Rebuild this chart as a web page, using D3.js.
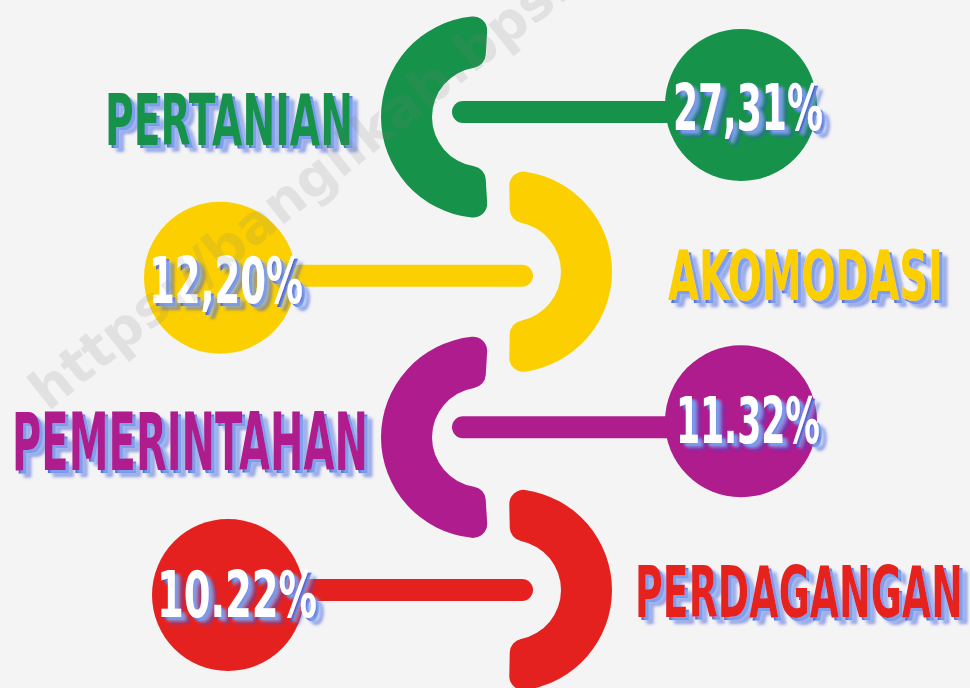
<!DOCTYPE html>
<html>
<head>
<meta charset="utf-8">
<script src="https://cdn.jsdelivr.net/npm/d3@7"></script>
<style>
  html, body { margin: 0; padding: 0; background: #f4f4f5; }
  svg { display: block; }
</style>
</head>
<body>
<div id="chart"></div>
<script>
// data
var sectors = ["PERTANIAN", "AKOMODASI", "PEMERINTAHAN", "PERDAGANGAN"];
var shares = [27.31, 12.20, 11.32, 10.22];
var shareLabels = ["27,31%", "12,20%", "11.32%", "10.22%"];
var sectorColors = ["#17924b", "#fcd000", "#ae1c8e", "#e5211f"];

var svgWidth = 970;
var svgHeight = 688;

var svg = d3.select("#chart")
  .append("svg")
  .attr("width", svgWidth)
  .attr("height", svgHeight);

svg.append("rect")
  .attr("width", svgWidth)
  .attr("height", svgHeight)
  .attr("fill", "#f4f4f5");

// shadow filter for the lettering
var defs = svg.append("defs");
var f = defs.append("filter").attr("id", "shadow")
  .attr("x", "-10%").attr("y", "-20%").attr("width", "130%").attr("height", "150%");
f.append("feDropShadow").attr("dx", 5).attr("dy", 4).attr("stdDeviation", 1.6)
  .attr("flood-color", "#9cc2ff").attr("flood-opacity", 0.55);
f.append("feDropShadow").attr("dx", 3).attr("dy", 3).attr("stdDeviation", 0.5)
  .attr("flood-color", "#3b4fd1").attr("flood-opacity", 0.95);

// row positions
var y = d3.scalePoint()
  .domain(sectors)
  .range([112, 588]);

var leftX = 482, rightX = 511;
var arcGen = d3.arc()
  .innerRadius(50)
  .outerRadius(101)
  .cornerRadius(14);

var rows = sectors.map(function(s, i) {
  return {
    name: s,
    value: shares[i],
    label: shareLabels[i],
    color: sectorColors[i],
    even: i % 2 === 0,
    y: y(s)
  };
});

// layout per row
var arcDy = [5, 1, 8, 2];
var circleX = [741, 220, 741, 228];
var circleDy = [-7, 7, -8, 7];
var barDy = [0, 5, -2, 2];
var textX = [748, 226, 748, 237];
var textBase = [130, 303, 443, 617];
var textW = [150, 154, 144, 160];
var nameX = [353, 668, 368, 635];
var nameBase = [145, 300, 470, 617];
var nameW = [248, 275, 356, 328];
var nameSize = [72, 70, 80, 72];

var g = svg.append("g");

// half rings
g.selectAll(".ring")
  .data(rows)
  .enter()
  .append("path")
  .attr("class", "ring")
  .attr("transform", (d, i) => `translate(${d.even ? leftX : rightX}, ${d.y + arcDy[i]})`)
  .attr("d", d => d.even
    ? arcGen({ startAngle: Math.PI - 0.06, endAngle: 2 * Math.PI + 0.06 })
    : arcGen({ startAngle: -0.02, endAngle: Math.PI + 0.02 }))
  .attr("fill", d => d.color);

// connecting bars
g.selectAll(".bar")
  .data(rows)
  .enter()
  .append("rect")
  .attr("class", "bar")
  .attr("x", (d, i) => d.even ? 452 : circleX[i])
  .attr("width", (d, i) => d.even ? circleX[i] - 452 : 533 - circleX[i])
  .attr("y", (d, i) => d.y + barDy[i] - 11)
  .attr("height", 22)
  .attr("rx", 11)
  .attr("fill", d => d.color);

// value circles
g.selectAll(".dot")
  .data(rows)
  .enter()
  .append("circle")
  .attr("class", "dot")
  .attr("cx", (d, i) => circleX[i])
  .attr("cy", (d, i) => d.y + circleDy[i])
  .attr("r", 76)
  .attr("fill", d => d.color);

// squeeze a text horizontally to a wanted width
function fitText(sel, widths) {
  sel.each(function(d, i) {
    var t = d3.select(this).select("text");
    var w = t.node().getComputedTextLength();
    t.attr("transform", `scale(${widths[i] / w}, 1)`);
  });
}

var fontStack = "'Liberation Sans Narrow', 'DejaVu Sans Condensed', sans-serif";

// percentage labels
var pct = g.selectAll(".pct")
  .data(rows)
  .enter()
  .append("g")
  .attr("class", "pct")
  .attr("transform", (d, i) => `translate(${textX[i] - textW[i] / 2}, ${textBase[i]})`)
  .attr("filter", "url(#shadow)");
pct.append("text")
  .attr("font-family", fontStack)
  .attr("font-weight", "bold")
  .attr("font-size", 64)
  .attr("fill", "#ffffff")
  .text(d => d.label);
fitText(pct, textW);

// sector names
var names = g.selectAll(".name")
  .data(rows)
  .enter()
  .append("g")
  .attr("class", "name")
  .attr("transform", (d, i) => `translate(${d.even ? nameX[i] - nameW[i] : nameX[i]}, ${nameBase[i]})`)
  .attr("filter", "url(#shadow)");
names.append("text")
  .attr("font-family", fontStack)
  .attr("font-weight", "bold")
  .attr("font-size", (d, i) => nameSize[i])
  .attr("fill", d => d.color)
  .text(d => d.name);
fitText(names, nameW);

// watermark
svg.append("text")
  .attr("transform", "translate(48, 412) rotate(-38.5)")
  .attr("font-family", "'DejaVu Sans', sans-serif")
  .attr("font-weight", "bold")
  .attr("font-size", 54)
  .attr("fill", "#777777")
  .attr("fill-opacity", 0.15)
  .text("https://banglikab.bps.go.id");
</script>
</body>
</html>
